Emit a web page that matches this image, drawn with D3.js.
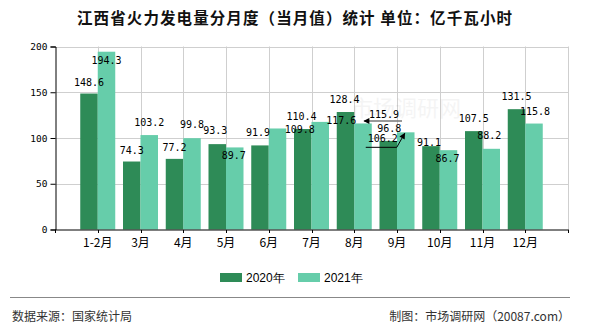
<!DOCTYPE html>
<html><head><meta charset="utf-8">
<script src="https://cdn.jsdelivr.net/npm/d3@7/dist/d3.min.js"></script>
<style>body{margin:0;background:#fff;overflow:hidden}</style>
</head><body>
<script>
const title = "江西省火力发电量分月度（当月值）统计 单位：亿千瓦小时";
const categories = ["1-2月","3月","4月","5月","6月","7月","8月","9月","10月","11月","12月"];
const seriesNames = ["2020年","2021年"];
const values2020 = [148.6, 74.3, 77.2, 93.3, 91.9, 109.8, 128.4, 96.8, 91.1, 107.5, 131.5];
const values2021 = [194.3, 103.2, 99.8, 89.7, 110.4, 117.6, 115.9, 106.2, 86.7, 88.2, 115.8];
const yTickValues = [0, 50, 100, 150, 200];
const colors = ["#2e8b57", "#66cdaa"];
// label nudges (dx, dy) from default position above bar
const nudge2020 = [[0,0],[0,0],[0,0],[-2,-2],[-2,-1],[-3,12],[-1,-1],[1,-1],[-2,8],[0,-1],[0,-1]];
const nudge2021 = [[0,20],[0,-1],[0,-2],[-1,20],[24,0],[21,10],[21,3],[-23,18],[-1,20],[-2,-2],[1,-1]];

const W = 590, H = 330;
const svg = d3.select("body").append("svg").attr("width", W).attr("height", H)
  .style("font-family", "'Noto Sans CJK SC', sans-serif");

const x = d3.scalePoint().domain(categories).range([55, 568]).padding(1);
const y = d3.scaleLinear().domain([0, 200]).range([229.5, 46.5]);
const bw = 17.5;

// title
svg.append("text").attr("x", 77).attr("y", 24)
  .attr("font-size", 15.5).attr("font-weight", "bold").attr("fill", "#111")
  .attr("textLength", 435).attr("lengthAdjust", "spacing").text(title);

// gridlines
const grid = svg.append("g").attr("stroke", "#cfcfcf").attr("stroke-width", 1);
yTickValues.filter(v => v > 0).forEach(v => {
  grid.append("line").attr("x1", 55).attr("x2", 568).attr("y1", Math.round(y(v)) + 0.5).attr("y2", Math.round(y(v)) + 0.5);
});
categories.forEach(c => {
  grid.append("line").attr("x1", Math.round(x(c)) + 0.5).attr("x2", Math.round(x(c)) + 0.5).attr("y1", y(200)).attr("y2", y(0));
});
grid.append("line").attr("x1", 568.5).attr("x2", 568.5).attr("y1", y(200)).attr("y2", y(0));

// watermark
svg.append("text").attr("x", 406).attr("y", 116).attr("text-anchor", "middle")
  .attr("font-size", 22).attr("fill", "#000").attr("opacity", 0.04).text("市场调研网");

// bars
const series = [values2020, values2021];
series.forEach((vals, s) => {
  svg.append("g").selectAll("rect").data(vals).join("rect")
    .attr("x", (d, i) => x(categories[i]) - bw + s * bw)
    .attr("y", d => y(d))
    .attr("width", bw)
    .attr("height", d => y(0) - y(d))
    .attr("fill", colors[s]);
});

// axes
const yAxis = svg.append("g").attr("transform", "translate(55.5,0)")
  .call(d3.axisLeft(y).tickValues(yTickValues).tickSize(5).tickPadding(3));
yAxis.select(".domain").attr("stroke", "#000");
yAxis.selectAll("text").attr("font-family", "'DejaVu Sans Mono', monospace").attr("font-size", 9.5).attr("fill", "#000");

const xAxisG = svg.append("g").attr("transform", "translate(0," + (y(0) + 0.5) + ")");
xAxisG.append("line").attr("x1", 55).attr("x2", 569).attr("y1", 0).attr("y2", 0).attr("stroke", "#000");
[55.5, ...categories.map(c => Math.round(x(c)) + 0.5), 568.5].forEach(px => {
  xAxisG.append("line").attr("x1", px).attr("x2", px).attr("y1", 0).attr("y2", 3).attr("stroke", "#000");
});
xAxisG.selectAll("text.cat").data(categories).join("text").attr("class", "cat")
  .attr("x", d => x(d)).attr("y", 17).attr("text-anchor", "middle")
  .attr("font-size", 12).attr("fill", "#000").text(d => d);

// data labels
const nudges = [nudge2020, nudge2021];
const labelPos = [[], []];
series.forEach((vals, s) => {
  svg.append("g").selectAll("text").data(vals).join("text")
    .attr("x", (d, i) => {
      const px = x(categories[i]) - bw / 2 + s * bw + nudges[s][i][0];
      labelPos[s][i] = [px, y(d) - 8 + nudges[s][i][1]];
      return px;
    })
    .attr("y", (d, i) => y(d) - 8 + nudges[s][i][1])
    .attr("text-anchor", "middle")
    .attr("font-family", "'DejaVu Sans Mono', monospace")
    .attr("font-size", 10).attr("fill", "#000")
    .text(d => d.toFixed(1));
});

// leader arrows
const defs = svg.append("defs");
defs.append("marker").attr("id", "ah").attr("viewBox", "0 0 10 10").attr("refX", 9).attr("refY", 5)
  .attr("markerUnits", "userSpaceOnUse")
  .attr("markerWidth", 7).attr("markerHeight", 6).attr("orient", "auto-start-reverse")
  .append("path").attr("d", "M0,0 L10,5 L0,10 z").attr("fill", "#000");
{
  const i = categories.indexOf("8月");
  const [lx, ly] = labelPos[1][i];
  const bx = x(categories[i]) + bw / 2;
  svg.append("path").attr("d", `M${lx + 18},${ly + 2.5} L${bx + 1},${ly + 2.5}`)
    .attr("stroke", "#777").attr("stroke-width", 1.5).attr("fill", "none").attr("marker-end", "url(#ah)");
}
{
  const i = categories.indexOf("9月");
  const [lx, ly] = labelPos[1][i];
  const bx = x(categories[i]) + bw / 2;
  const by = y(values2021[i]);
  svg.append("path").attr("d", `M${lx - 17},${ly + 5} L${lx + 14},${ly + 5} L${bx - 1},${by + 1}`)
    .attr("stroke", "#000").attr("stroke-width", 1).attr("fill", "none").attr("marker-end", "url(#ah)");
}

// legend
const legend = svg.append("g");
const legX = [220, 298];
seriesNames.forEach((n, s) => {
  legend.append("rect").attr("x", legX[s]).attr("y", 273).attr("width", 22).attr("height", 9).attr("fill", colors[s]);
  legend.append("text").attr("x", legX[s] + 26).attr("y", 282).attr("font-size", 12).attr("fill", "#000")
    .attr("font-family", "'Liberation Sans', Arial, sans-serif").text(n);
});

// footer
svg.append("line").attr("x1", 10).attr("x2", 570).attr("y1", 297.5).attr("y2", 297.5).attr("stroke", "#888").attr("stroke-width", 1);
svg.append("text").attr("x", 12).attr("y", 321).attr("font-size", 12).attr("fill", "#333").text("数据来源：国家统计局");
svg.append("text").attr("x", 570).attr("y", 321).attr("text-anchor", "end").attr("font-size", 12).attr("fill", "#333").text("制图：市场调研网（20087.com）");
</script>
</body></html>
